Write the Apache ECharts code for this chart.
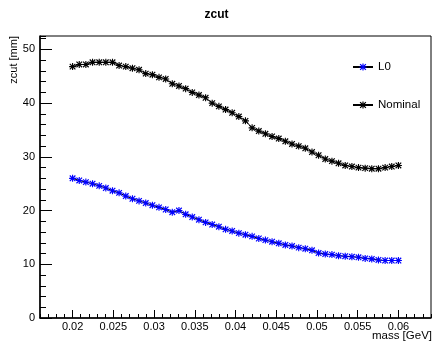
<!DOCTYPE html>
<html>
<head>
<meta charset="utf-8">
<script src="https://cdn.jsdelivr.net/npm/echarts@6/dist/echarts.min.js"></script>
<style>
html,body{margin:0;padding:0;background:#fff;}
#chart{width:433px;height:342px;}
</style>
</head>
<body>
<div id="chart"></div>
<script>
// Data
var masses = [0.02000,0.02082,0.02163,0.02245,0.02327,0.02408,0.02490,0.02571,0.02653,0.02735,
              0.02816,0.02898,0.02980,0.03061,0.03143,0.03224,0.03306,0.03388,0.03469,0.03551,
              0.03633,0.03714,0.03796,0.03878,0.03959,0.04041,0.04122,0.04204,0.04286,0.04367,
              0.04449,0.04531,0.04612,0.04694,0.04776,0.04857,0.04939,0.05020,0.05102,0.05184,
              0.05265,0.05347,0.05429,0.05510,0.05592,0.05673,0.05755,0.05837,0.05918,0.06000];
var l0Values = [26.0,25.6,25.3,25.0,24.6,24.2,23.7,23.3,22.7,22.2,
                21.8,21.4,21.0,20.6,20.2,19.7,20.0,19.3,18.8,18.3,
                17.8,17.4,17.0,16.5,16.2,15.8,15.5,15.2,14.8,14.5,
                14.2,13.9,13.6,13.4,13.1,12.9,12.6,12.1,11.9,11.8,
                11.6,11.5,11.4,11.3,11.1,11.0,10.8,10.7,10.7,10.7];
var nominalValues = [46.8,47.2,47.2,47.6,47.6,47.6,47.6,47.0,46.8,46.5,
                     46.2,45.5,45.3,44.8,44.5,43.6,43.2,42.7,42.0,41.5,
                     41.0,40.0,39.4,38.8,38.2,37.5,36.7,35.4,34.8,34.3,
                     33.8,33.4,32.9,32.4,32.0,31.6,30.9,30.3,29.6,29.2,
                     28.8,28.4,28.2,28.0,27.9,27.8,27.8,28.0,28.2,28.4];
var seriesNames = ['L0', 'Nominal'];
var chartTitle = 'zcut';
var xTitle = 'mass [GeV]';
var yTitle = 'zcut [mm]';

function pairs(xs, ys) { return xs.map(function (x, i) { return [x, ys[i]]; }); }

var star = 'path://M0,4.2L10,4.2L10,5.8L0,5.8Z M4.2,0L5.8,0L5.8,10L4.2,10Z M0.4,1.6L1.6,0.4L9.6,8.4L8.4,9.6Z M8.4,0.4L9.6,1.6L1.6,9.6L0.4,8.4Z';
var FONT = '"Liberation Sans", Arial, Helvetica, sans-serif';
var XMIN = 0.016, XMAX = 0.064, YMIN = 0, YMAX = 52.5;

var chart = echarts.init(document.getElementById('chart'), null, {renderer: 'canvas'});
chart.setOption({
  animation: false,
  backgroundColor: '#fff',
  textStyle: {fontFamily: FONT},
  title: {
    text: chartTitle, left: 'center', top: 4,
    textStyle: {fontSize: 12, fontWeight: 'bold', color: '#000', fontFamily: FONT}
  },
  legend: {
    data: seriesNames, orient: 'vertical', left: 352, top: 61, padding: 0,
    itemWidth: 20, itemHeight: 9, itemGap: 26, itemTextGap: 4,
    textStyle: {fontSize: 11.5, color: '#000', fontFamily: FONT}
  },
  grid: {
    left: 40, right: 2, top: 36, bottom: 24, show: true,
    containLabel: false, outerBoundsMode: 'none',
    borderColor: '#000', borderWidth: 1, backgroundColor: 'transparent'
  },
  graphic: [{
    type: 'text', right: 1, top: 330,
    style: {text: xTitle, fontSize: 11.5, fill: '#000', fontFamily: FONT}
  }],
  xAxis: [{
    type: 'value', min: XMIN, max: XMAX, splitNumber: 10,
    axisLine: {show: true, onZero: false, lineStyle: {color: '#000', width: 1.5}},
    axisTick: {show: true, inside: true, length: 8, lineStyle: {color: '#000', width: 1}},
    axisLabel: {fontSize: 11, color: '#000', margin: 3, showMinLabel: false, showMaxLabel: false, fontFamily: FONT},
    splitLine: {show: false}
  }, {
    type: 'value', min: XMIN, max: XMAX, interval: 0.001, position: 'bottom',
    axisLine: {show: false},
    axisTick: {show: true, inside: true, length: 4, lineStyle: {color: '#000', width: 1}},
    axisLabel: {show: false},
    splitLine: {show: false}
  }],
  yAxis: [{
    type: 'value', min: YMIN, max: YMAX, interval: 10,
    name: yTitle, nameLocation: 'end', nameGap: 0, nameRotate: 90,
    nameTextStyle: {fontSize: 11, color: '#000', align: 'right', verticalAlign: 'bottom', padding: [0, 0, 21, 0], fontFamily: FONT},
    axisLine: {show: true, onZero: false, lineStyle: {color: '#000', width: 1.5}},
    axisTick: {show: true, inside: true, length: 12, lineStyle: {color: '#000', width: 1}},
    axisLabel: {fontSize: 11, color: '#000', margin: 5, showMaxLabel: false, fontFamily: FONT},
    splitLine: {show: false}
  }, {
    type: 'value', min: YMIN, max: YMAX, interval: 2, position: 'left',
    axisLine: {show: false},
    axisTick: {show: true, inside: true, length: 6, lineStyle: {color: '#000', width: 1}},
    axisLabel: {show: false},
    splitLine: {show: false}
  }],
  series: [{
    name: seriesNames[0], type: 'line', xAxisIndex: 0, yAxisIndex: 0,
    data: pairs(masses, l0Values),
    symbol: star, symbolSize: 7, showAllSymbol: true,
    itemStyle: {color: '#0000ff'},
    lineStyle: {color: '#000', width: 1}
  }, {
    name: seriesNames[1], type: 'line', xAxisIndex: 0, yAxisIndex: 0,
    data: pairs(masses, nominalValues),
    symbol: star, symbolSize: 7, showAllSymbol: true,
    itemStyle: {color: '#000'},
    lineStyle: {color: '#000', width: 1}
  }]
});
</script>
</body>
</html>
